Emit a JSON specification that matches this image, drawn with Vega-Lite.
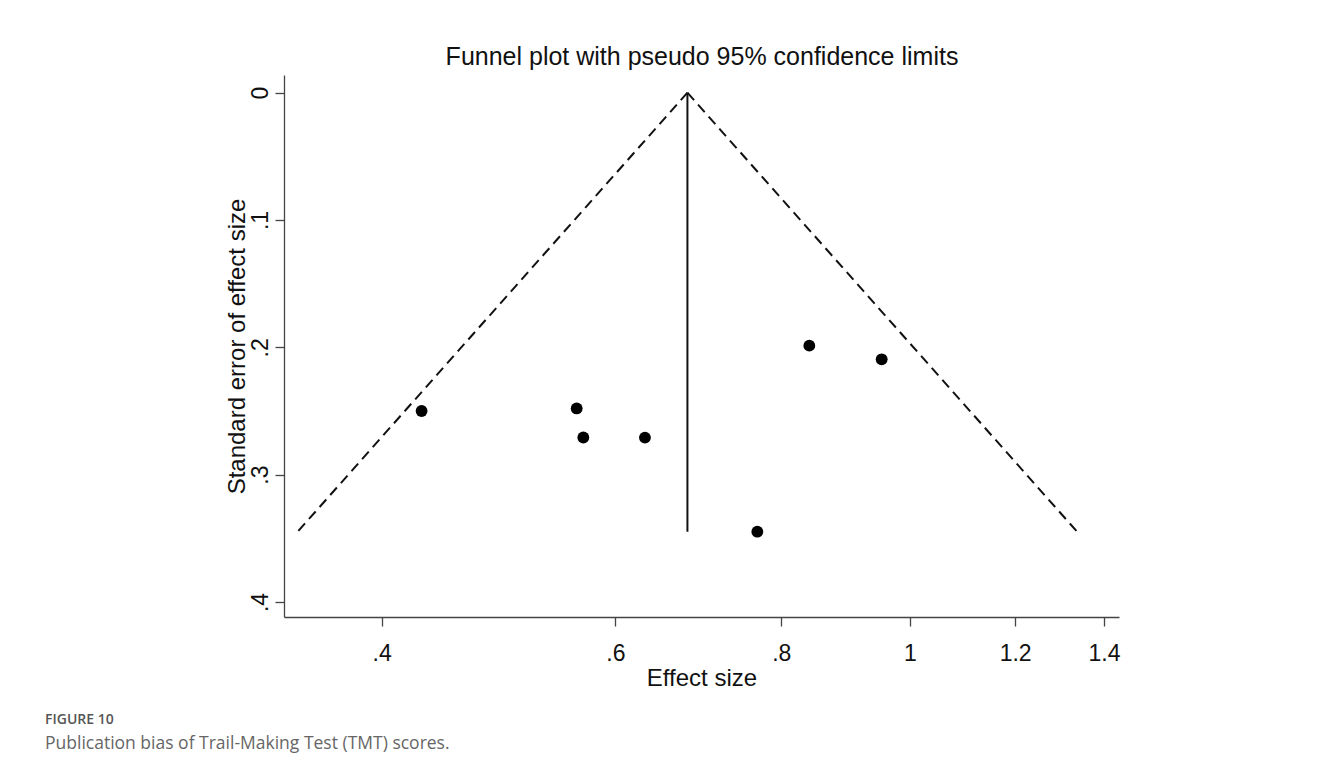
{
  "$schema": "https://vega.github.io/schema/vega-lite/v6.json",
  "autosize": {"type": "none"},
  "width": 835,
  "height": 542,
  "padding": {"left": 284, "top": 75, "right": 204, "bottom": 150},
  "background": "white",
  "title": {
    "text": "FIGURE 10",
    "subtitle": "Publication bias of Trail-Making Test (TMT) scores.",
    "orient": "bottom",
    "anchor": "start",
    "frame": "group",
    "dx": -239,
    "offset": 23,
    "font": "Open Sans",
    "fontSize": 14,
    "fontWeight": 600,
    "color": "#555555",
    "subtitleFont": "Open Sans",
    "subtitleFontSize": 17.5,
    "subtitleColor": "#666666",
    "subtitlePadding": 8
  },
  "config": {
    "view": {"stroke": null},
    "axis": {
      "grid": false,
      "labelFont": "Liberation Sans",
      "titleFont": "Liberation Sans",
      "labelColor": "#111111",
      "titleColor": "#111111",
      "titleFontWeight": "normal",
      "domainColor": "#444444",
      "tickColor": "#444444",
      "domainWidth": 1.3,
      "tickWidth": 1.3
    }
  },
  "datasets": {
    "studies": [
      {"study": 1, "es": 0.4287, "se": 0.2500},
      {"study": 2, "es": 0.5610, "se": 0.2480},
      {"study": 3, "es": 0.5675, "se": 0.2708},
      {"study": 4, "es": 0.6315, "se": 0.2709},
      {"study": 5, "es": 0.7674, "se": 0.3448},
      {"study": 6, "es": 0.8398, "se": 0.1987},
      {"study": 7, "es": 0.9521, "se": 0.2094}
    ],
    "funnel": [
      {"segment": "lower limit", "style": "pseudo 95% limit", "pos": 0, "es": 0.6798, "se": 0},
      {"segment": "lower limit", "style": "pseudo 95% limit", "pos": 1, "es": 0.3458, "se": 0.3448},
      {"segment": "upper limit", "style": "pseudo 95% limit", "pos": 0, "es": 0.6798, "se": 0},
      {"segment": "upper limit", "style": "pseudo 95% limit", "pos": 1, "es": 1.3362, "se": 0.3448},
      {"segment": "pooled estimate", "style": "pooled estimate", "pos": 0, "es": 0.6798, "se": 0},
      {"segment": "pooled estimate", "style": "pooled estimate", "pos": 1, "es": 0.6798, "se": 0.3448}
    ]
  },
  "layer": [
    {
      "data": {"name": "funnel"},
      "mark": {"type": "line", "color": "#111111", "strokeWidth": 2},
      "encoding": {
        "x": {
          "field": "es",
          "type": "quantitative",
          "scale": {"type": "log", "domain": [0.3377, 1.4369], "nice": false, "zero": false},
          "axis": {
            "orient": "bottom",
            "values": [0.4, 0.6, 0.8, 1, 1.2, 1.4],
            "labelExpr": "datum.value < 1 ? '.' + format(datum.value * 10, '.0f') : format(datum.value, '~g')",
            "tickSize": 9,
            "labelPadding": 16,
            "labelFontSize": 23,
            "title": "Effect size",
            "titleFontSize": 24,
            "titlePadding": 1
          }
        },
        "y": {
          "field": "se",
          "type": "quantitative",
          "scale": {"domain": [-0.0139, 0.4118], "reverse": true, "nice": false, "zero": false},
          "axis": {
            "values": [0, 0.1, 0.2, 0.3, 0.4],
            "labelExpr": "datum.value == 0 ? '0' : '.' + format(datum.value * 10, '.0f')",
            "labelAngle": -90,
            "labelAlign": "center",
            "labelBaseline": "bottom",
            "tickSize": 9,
            "labelPadding": 3,
            "labelFontSize": 23,
            "title": "Standard error of effect size",
            "titleFontSize": 24,
            "titlePadding": 0
          }
        },
        "detail": {"field": "segment", "type": "nominal"},
        "order": {"field": "pos", "type": "quantitative"},
        "strokeDash": {
          "field": "style",
          "type": "nominal",
          "scale": {"domain": ["pseudo 95% limit", "pooled estimate"], "range": [[10, 6], [1, 0]]},
          "legend": null
        }
      }
    },
    {
      "data": {"name": "studies"},
      "mark": {"type": "circle", "size": 140, "color": "#000000", "opacity": 1},
      "encoding": {
        "x": {
          "field": "es",
          "type": "quantitative",
          "axis": {
            "orient": "top",
            "labels": false,
            "ticks": false,
            "domain": false,
            "tickSize": 0,
            "title": "Funnel plot with pseudo 95% confidence limits",
            "titleFontSize": 25,
            "titlePadding": 6
          }
        },
        "y": {"field": "se", "type": "quantitative"}
      }
    }
  ],
  "resolve": {"axis": {"x": "independent"}}
}
